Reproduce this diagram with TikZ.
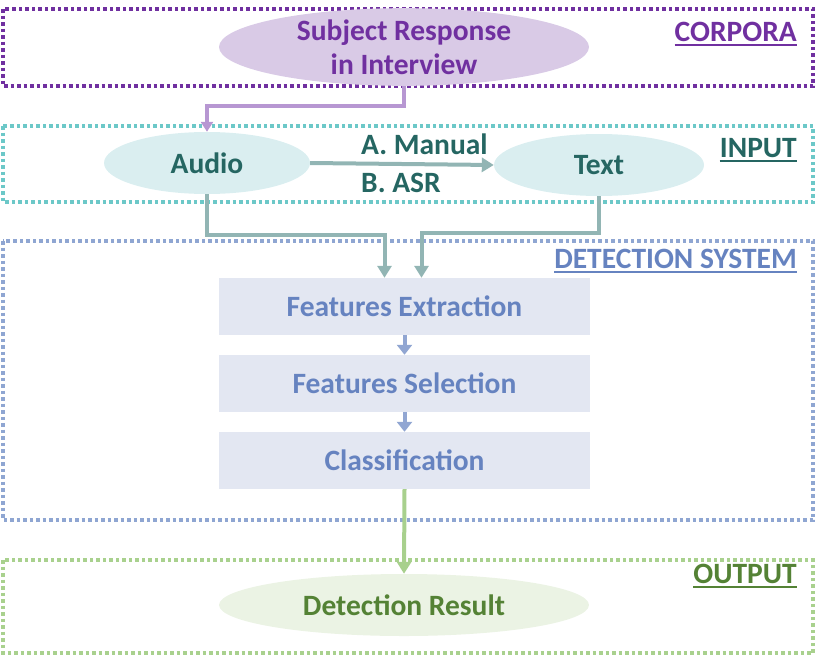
\documentclass[tikz,border=0pt]{standalone}
\usepackage{fontspec}
\setmainfont{Carlito}
\usetikzlibrary{shapes.geometric,arrows.meta,calc}
\definecolor{purp}{HTML}{7030A0}
\definecolor{purpfill}{HTML}{D9CAE6}
\definecolor{purparrow}{HTML}{B797D2}
\definecolor{tealbox}{HTML}{6CC8C8}
\definecolor{tealtext}{HTML}{256662}
\definecolor{tealfill}{HTML}{DAEEF0}
\definecolor{tealarrow}{HTML}{92B5B4}
\definecolor{bluebox}{HTML}{8FA6D2}
\definecolor{bluetext}{HTML}{6683C0}
\definecolor{bluefill}{HTML}{E3E7F2}
\definecolor{bluearrow}{HTML}{91A6D2}
\definecolor{greenbox}{HTML}{A9D18E}
\definecolor{greentext}{HTML}{548235}
\definecolor{greenfill}{HTML}{EBF3E4}
\definecolor{greenarrow}{HTML}{A8D08D}
\newcommand{\bigfont}{\bfseries\fontsize{29.5}{34}\selectfont}
\tikzset{
  groupbox/.style={line width=4pt, dash pattern=on 3.5pt off 3pt},
  grouplabel/.style={anchor=east, inner sep=0pt, font=\bigfont},
  ulineof/.style={line width=2.5pt},
  oval/.style={ellipse, inner sep=0pt, font=\bigfont, align=center},
  stagebox/.style={rectangle, fill=bluefill, minimum width=371pt, minimum height=57pt, inner sep=0pt, text=bluetext, font=\bigfont},
  conn/.style={line width=4pt, -{Triangle[length=12pt,width=14pt]}},
  edgelabel/.style={anchor=west, inner sep=0pt, text=tealtext, font=\bigfont},
}
\begin{document}
\begin{tikzpicture}[x=1pt,y=-1pt]
\useasboundingbox (0,0) rectangle (816,656);
% group boxes
\draw[groupbox, purp] (3,9) rectangle (813,86);
\draw[groupbox, tealbox] (3,126) rectangle (813,202);
\draw[groupbox, bluebox] (3,241) rectangle (813,520);
\draw[groupbox, greenbox] (3,560) rectangle (813,653);
\node[grouplabel, text=purp] (lcorp) at (797,32) {CORPORA};
\node[grouplabel, text=tealtext] (linput) at (797,148) {INPUT};
\node[grouplabel, text=bluetext] (ldet) at (797,259) {DETECTION SYSTEM};
\node[grouplabel, text=greentext] (lout) at (797,574) {OUTPUT};
\draw[ulineof, purp] ([yshift=-3.5pt]lcorp.base west) -- ([yshift=-3.5pt]lcorp.base east);
\draw[ulineof, tealtext] ([yshift=-3.5pt]linput.base west) -- ([yshift=-3.5pt]linput.base east);
\draw[ulineof, bluetext] ([yshift=-3.5pt]ldet.base west) -- ([yshift=-3.5pt]ldet.base east);
\draw[ulineof, greentext] ([yshift=-3.5pt]lout.base west) -- ([yshift=-3.5pt]lout.base east);
% nodes
\node[oval, fill=purpfill, text=purp, minimum width=370pt, minimum height=72pt] (subj) at (404,47) {Subject Response\\in Interview};
\node[oval, fill=tealfill, text=tealtext, minimum width=206pt, minimum height=62pt] (audio) at (207,163) {Audio};
\node[oval, fill=tealfill, text=tealtext, minimum width=210pt, minimum height=62pt] (text) at (599,165) {Text};
\node[stagebox] (fe) at (404.5,306.5) {Features Extraction};
\node[stagebox] (fs) at (404.5,383.5) {Features Selection};
\node[stagebox] (cl) at (404.5,460.5) {Classification};
\node[oval, fill=greenfill, text=greentext, minimum width=370pt, minimum height=62pt] (res) at (404,605) {Detection Result};
\node[edgelabel] (am) at (361,144) {A. Manual};
\node[edgelabel] (bs) at (361,183) {B. ASR};
% connectors
\draw[conn, purparrow, -{Triangle[length=10pt,width=12pt]}] (subj.south) -- ++(0,20) -| (audio.north);
\draw[conn, tealarrow] (audio.east) -- (text.west);
\draw[conn, tealarrow] (audio.south) -- (207,235) -| ($(fe.north)+(-20,0)$);
\draw[conn, tealarrow] (text.south) -- (599,233) -| ($(fe.north)+(17,0)$);
\draw[conn, bluearrow, -{Triangle[length=10pt,width=15pt]}] (fe.south) -- (fs.north);
\draw[conn, bluearrow, -{Triangle[length=10pt,width=15pt]}] (fs.south) -- (cl.north);
\draw[conn, greenarrow] (cl.south) -- (res.north);
\end{tikzpicture}
\end{document}
